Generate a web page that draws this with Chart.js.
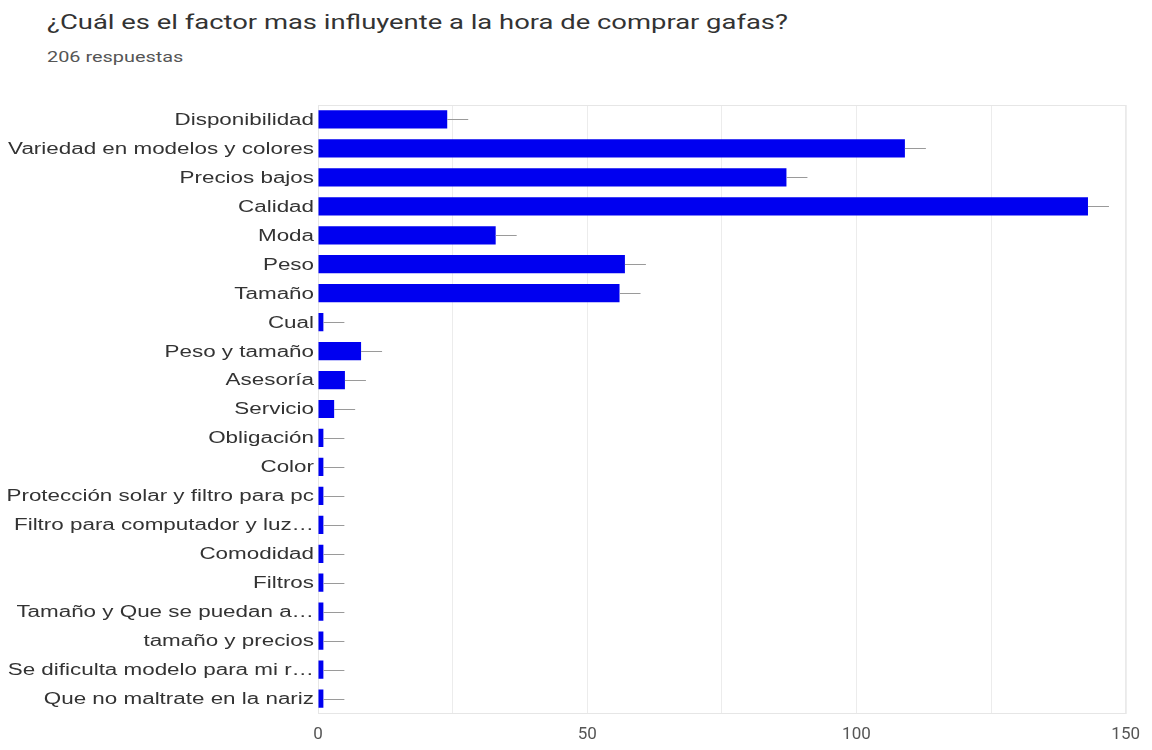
<!DOCTYPE html>
<html>
<head>
<meta charset="utf-8">
<script src="https://cdn.jsdelivr.net/npm/chart.js@4"></script>
<style>
  body { margin: 0; background: #fff; font-family: Roboto, sans-serif; }
  #wrap { position: relative; width: 1152px; height: 750px; }
  #title { position: absolute; left: 47px; top: 10px; font-size: 20px; color: #333; white-space: nowrap;
           transform: scaleX(1.37); transform-origin: left center; }
  #sub { position: absolute; left: 47px; top: 49px; font-size: 14px; color: #555; white-space: nowrap;
         transform: scaleX(1.42); transform-origin: left center; }
  #box { position: absolute; left: 0; top: 0; width: 1152px; height: 750px; }
</style>
</head>
<body>
<div id="wrap">
  <div id="title">¿Cuál es el factor mas influyente a la hora de comprar gafas?</div>
  <div id="sub">206 respuestas</div>
  <div id="box"><canvas id="factores"></canvas></div>
</div>
<script>
const categorias = [
  'Disponibilidad',
  'Variedad en modelos y colores',
  'Precios bajos',
  'Calidad',
  'Moda',
  'Peso',
  'Tamaño',
  'Cual',
  'Peso y tamaño',
  'Asesoría',
  'Servicio',
  'Obligación',
  'Color',
  'Protección solar y filtro para pc',
  'Filtro para computador y luz…',
  'Comodidad',
  'Filtros',
  'Tamaño y Que se puedan a…',
  'tamaño y precios',
  'Se dificulta modelo para mi r…',
  'Que no maltrate en la nariz'
];
const respuestas = [24, 109, 87, 143, 33, 57, 56, 1, 8, 5, 3, 1, 1, 1, 1, 1, 1, 1, 1, 1, 1];
const marcasX = [0, 50, 100, 150];

// wide category text: drawn at the y scale's tick positions, stretched horizontally
const ESTIRAR = 1.4;

const extras = {
  id: 'extras',
  beforeDatasetsDraw(chart) {
    const { ctx, chartArea: a } = chart;
    ctx.save();
    ctx.strokeStyle = '#e6e6e6';
    ctx.lineWidth = 1;
    ctx.strokeRect(a.left + 0.5, a.top + 0.5, a.right - a.left, a.bottom - a.top);
    ctx.restore();
  },
  afterDatasetsDraw(chart) {
    const { ctx } = chart;
    const meta = chart.getDatasetMeta(0);
    // thin gray whisker after each bar end
    ctx.save();
    ctx.strokeStyle = '#9a9a9a';
    ctx.lineWidth = 1;
    meta.data.forEach(bar => {
      ctx.beginPath();
      ctx.moveTo(bar.x, Math.round(bar.y) + 0.5);
      ctx.lineTo(bar.x + 21, Math.round(bar.y) + 0.5);
      ctx.stroke();
    });
    ctx.restore();
  },
  afterDraw(chart) {
    const { ctx, chartArea: a } = chart;
    const y = chart.scales.y;
    ctx.save();
    ctx.fillStyle = '#333';
    ctx.font = '16px "Liberation Sans", Arial, sans-serif';
    ctx.textAlign = 'right';
    ctx.textBaseline = 'middle';
    y.ticks.forEach((t, i) => {
      ctx.save();
      ctx.translate(a.left - 4, y.getPixelForTick(i) + 1);
      ctx.scale(ESTIRAR, 1);
      ctx.fillText(categorias[t.value], 0, 0);
      ctx.restore();
    });
    ctx.restore();
  }
};

new Chart(
  document.getElementById('factores'),
  {
    type: 'bar',
    data: {
      labels: categorias,
      datasets: [
        {
          data: respuestas,
          backgroundColor: '#0000f0',
          barPercentage: 0.63,
          categoryPercentage: 1
        }
      ]
    },
    options: {
      indexAxis: 'y',
      responsive: true,
      maintainAspectRatio: false,
      animation: false,
      layout: { padding: { top: 105, right: 25, left: 0, bottom: 0 } },
      plugins: {
        legend: { display: false },
        tooltip: { enabled: false }
      },
      scales: {
        x: {
          min: 0,
          max: 150,
          afterFit: s => { s.height = 37; },
          ticks: {
            stepSize: 25,
            padding: 12,
            color: '#555',
            font: { family: 'Roboto', size: 17 },
            callback: v => marcasX.includes(v) ? v : ''
          },
          grid: { color: '#ececec', drawTicks: false },
          border: { display: false }
        },
        y: {
          afterFit: s => { s.width = 318; },
          ticks: {
            padding: 4,
            color: 'rgba(0,0,0,0)',
            font: { family: 'Liberation Sans', size: 16 }
          },
          grid: { display: false, drawTicks: false },
          border: { color: '#777', width: 1 }
        }
      }
    },
    plugins: [extras]
  }
);
</script>
</body>
</html>
